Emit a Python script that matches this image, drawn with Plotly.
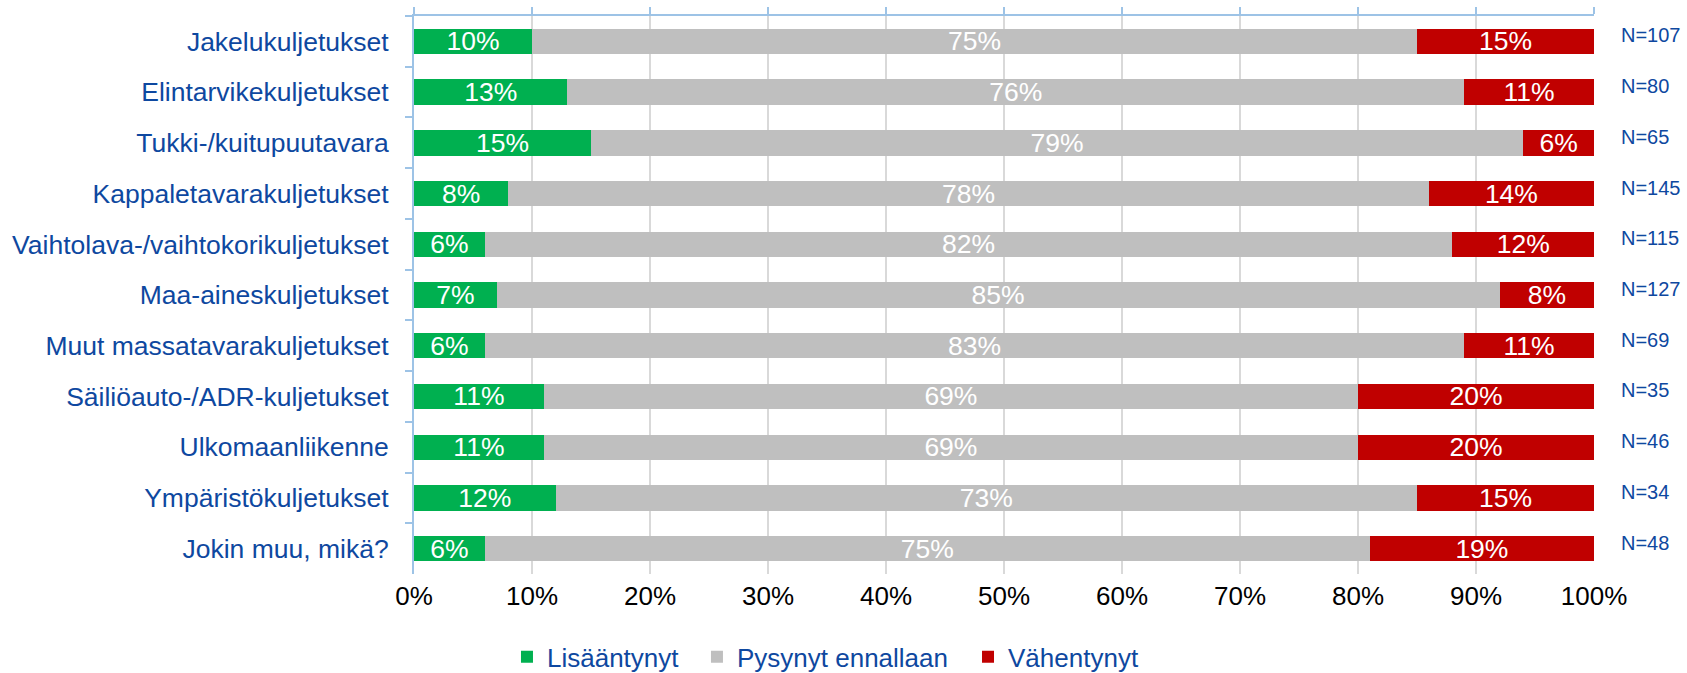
import plotly.graph_objects as go

# categories top to bottom
kategoriat = ["Jakelukuljetukset", "Elintarvikekuljetukset", "Tukki-/kuitupuutavara",
              "Kappaletavarakuljetukset", "Vaihtolava-/vaihtokorikuljetukset",
              "Maa-aineskuljetukset", "Muut massatavarakuljetukset",
              "Säiliöauto-/ADR-kuljetukset", "Ulkomaanliikenne",
              "Ympäristökuljetukset", "Jokin muu, mikä?"]
lisaantynyt = [10, 13, 15, 8, 6, 7, 6, 11, 11, 12, 6]
pysynyt = [75, 76, 79, 78, 82, 85, 83, 69, 69, 73, 75]
vahentynyt = [15, 11, 6, 14, 12, 8, 11, 20, 20, 15, 19]
n_vastaajat = [107, 80, 65, 145, 115, 127, 69, 35, 46, 34, 48]
x_ticks = [0, 10, 20, 30, 40, 50, 60, 70, 80, 90, 100]
x_ticktext = ["0%", "10%", "20%", "30%", "40%", "50%", "60%", "70%", "80%", "90%", "100%"]

BLUE = "#0E48A0"
AXIS = "#9DC3E6"
FONT = "Liberation Sans, Arial, sans-serif"

fig = go.Figure()
sarjat = [("Lisääntynyt", lisaantynyt, "#00B050", "legend", 0.0788),
          ("Pysynyt ennallaan", pysynyt, "#BFBFBF", "legend2", 0.2398),
          ("Vähentynyt", vahentynyt, "#C00000", "legend3", 0.4695)]
for nimi, arvot, vari, leg, _ in sarjat:
    fig.add_trace(go.Bar(
        y=kategoriat, x=arvot, name=nimi, orientation="h", legend=leg,
        marker=dict(color=vari, line=dict(width=0)),
        text=[f"{v}%" for v in arvot],
        textposition="inside", insidetextanchor="middle",
        textangle=0, constraintext="none",
        textfont=dict(color="white", size=26.5, family=FONT),
        width=0.5,
    ))

# invisible trace so the top axis line gets drawn
fig.add_trace(go.Scatter(x=[0, 100], y=[kategoriat[0], kategoriat[0]], xaxis="x2",
                         mode="markers", marker=dict(opacity=0), showlegend=False,
                         hoverinfo="skip"))

for kat, n in zip(kategoriat, n_vastaajat):
    fig.add_annotation(x=1, xref="paper", y=kat, yref="y", text=f"N={n}",
                       showarrow=False, xanchor="left", xshift=25, yshift=6,
                       font=dict(color=BLUE, size=20, family=FONT))

legenda = dict(orientation="h", y=-0.1487, yanchor="middle", xanchor="left",
               font=dict(size=26, color=BLUE, family=FONT), bgcolor="rgba(0,0,0,0)")
legend_layout = {}
for nimi, arvot, vari, leg, lx in sarjat:
    legend_layout[leg] = dict(legenda, x=lx)

fig.update_layout(
    width=1687, height=673,
    margin=dict(l=414, r=93, t=16, b=99, autoexpand=False),
    barmode="stack",
    plot_bgcolor="white", paper_bgcolor="white",
    font=dict(family=FONT),
    xaxis=dict(range=[0, 100], tickmode="array", tickvals=x_ticks, ticktext=x_ticktext,
               showgrid=True, gridcolor="#D9D9D9", gridwidth=2, automargin=False,
               zeroline=False, showline=False, ticks="",
               tickfont=dict(size=26, color="black"), ticklabelstandoff=4),
    xaxis2=dict(range=[0, 100], tickvals=x_ticks, overlaying="x", side="top",
                showgrid=False, showticklabels=False, showline=True, automargin=False,
                linecolor=AXIS, linewidth=2, ticks="outside", tickcolor=AXIS,
                ticklen=7, tickwidth=2, zeroline=False),
    yaxis=dict(range=[len(kategoriat) - 0.5, -0.5], showline=True, linecolor=AXIS,
               linewidth=2, ticks="outside", tickson="boundaries", tickcolor=AXIS,
               ticklen=7, tickwidth=2, showgrid=False, automargin=False,
               tickfont=dict(size=26.5, color=BLUE), ticklabelstandoff=18),
    bargap=0.5,
    **legend_layout,
)

# drop the browser's default 8px body margin so the figure sits at the window corner
fig.write_html("out.html", config={"displayModeBar": False},
               post_script="document.body.style.margin='0';")
